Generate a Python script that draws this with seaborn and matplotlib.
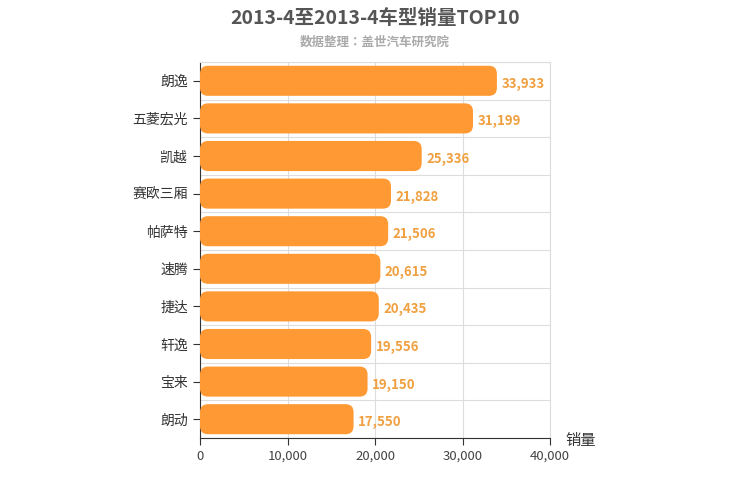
import matplotlib
matplotlib.use("Agg")
import matplotlib.pyplot as plt
import seaborn as sns
import pandas as pd
from matplotlib.patches import FancyBboxPatch

models = ["朗逸", "五菱宏光", "凯越", "赛欧三厢", "帕萨特", "速腾", "捷达", "轩逸", "宝来", "朗动"]
sales = [33933, 31199, 25336, 21828, 21506, 20615, 20435, 19556, 19150, 17550]
xticks = [0, 10000, 20000, 30000, 40000]

plt.rcParams["font.family"] = ["Noto Sans CJK SC", "Noto Sans CJK JP", "Noto Sans CJK TC", "DejaVu Sans"]
df = pd.DataFrame({"model": models, "sales": sales})
fig = plt.figure(figsize=(7.5, 5), dpi=100)
ax = fig.add_axes([200/750, 1-438/500, 350/750, 376/500])
sns.barplot(data=df, x="sales", y="model", color="#ff9933", width=0.8, ax=ax, saturation=1)

xpx = 40000/350
ypx = 10/376
for p in list(ax.patches):
    x0, y0, w, h = p.get_x(), p.get_y(), p.get_width(), p.get_height()
    p.remove()
    r = 8*xpx
    fb = FancyBboxPatch((x0, y0), w, h, boxstyle=f"round,pad=0,rounding_size={r}",
                        mutation_aspect=ypx/xpx, facecolor="#ff9933", edgecolor="none", zorder=3)
    ax.add_patch(fb)

for i, v in enumerate(sales):
    ax.text(v + 500, i + 0.08, f"{v:,}", va="center", ha="left", color="#f0a040",
            fontsize=9.5, fontweight="bold")

ax.set_xlim(0, 40000)
ax.set_ylim(9.5, -0.5)
ax.set_xticks(xticks)
ax.set_xticklabels([f"{t:,}" for t in xticks], color="#444", fontsize=9.5)
ax.set_yticks(range(10))
ax.set_yticklabels(models, color="#333", fontsize=10)
ax.set_yticks([i + 0.5 for i in range(-1, 10)], minor=True)
ax.grid(axis="x", color="#dddddd", lw=0.8, zorder=0)
ax.grid(axis="y", which="minor", color="#dddddd", lw=0.8, zorder=0)
ax.tick_params(axis="y", which="both", length=0)
ax.tick_params(axis="y", which="major", length=5, color="#333")
ax.tick_params(axis="x", length=5, color="#333")
ax.set_axisbelow(True)
for s in ["top", "right"]:
    ax.spines[s].set_color("#dddddd")
for s in ["left", "bottom"]:
    ax.spines[s].set_color("#333")
ax.set_xlabel("")
ax.set_ylabel("")
fig.text(565/750, 1-441/500, "销量", fontsize=11, color="#333", va="center")
fig.text(0.5, 1-18/500, "2013-4至2013-4车型销量TOP10", ha="center", va="center",
         fontsize=14, fontweight="bold", color="#555")
fig.text(0.5, 1-42/500, "数据整理：盖世汽车研究院", ha="center", va="center",
         fontsize=9, fontweight="bold", color="#aaaaaa")
fig.savefig("out.png", dpi=100)
